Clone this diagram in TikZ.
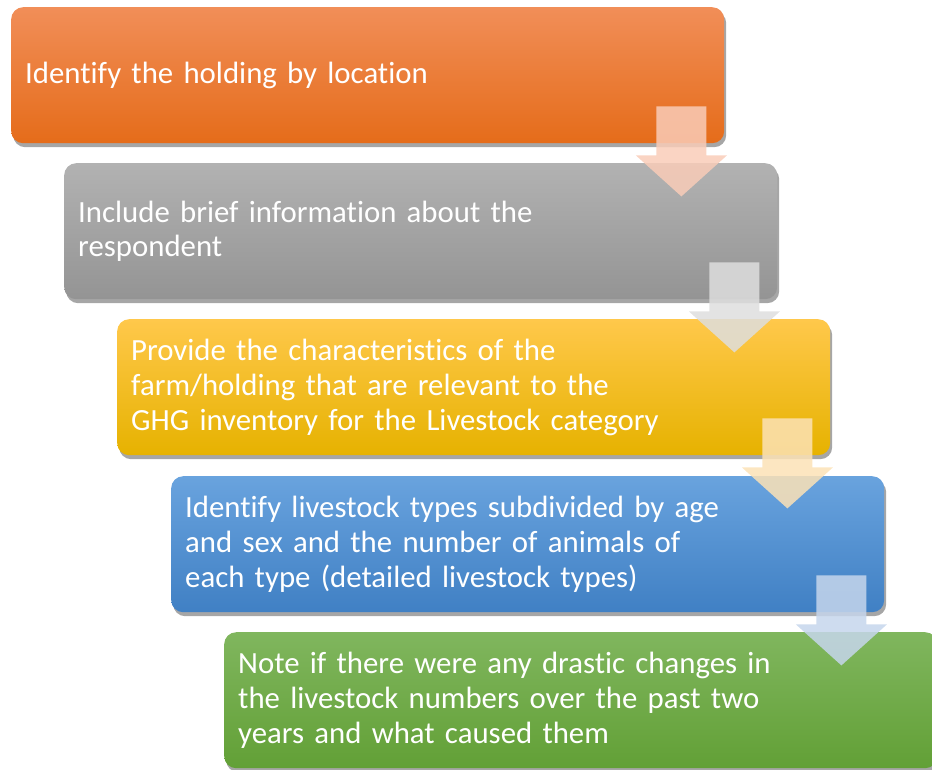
\documentclass[tikz,border=0pt]{standalone}
\usepackage{fontspec}
\setmainfont[Ligatures={NoCommon,NoRequired}]{Carlito}
\usetikzlibrary{shadows,calc}
\definecolor{oT}{RGB}{241,142,88}
\definecolor{oM}{RGB}{238,124,48}
\definecolor{oB}{RGB}{229,108,26}
\definecolor{gT}{RGB}{178,178,178}
\definecolor{gM}{RGB}{165,165,165}
\definecolor{gB}{RGB}{148,148,148}
\definecolor{yT}{RGB}{255,200,75}
\definecolor{yM}{RGB}{255,192,0}
\definecolor{yB}{RGB}{230,178,0}
\definecolor{bT}{RGB}{105,163,222}
\definecolor{bM}{RGB}{88,150,212}
\definecolor{bB}{RGB}{64,128,196}
\definecolor{nT}{RGB}{128,182,94}
\definecolor{nM}{RGB}{112,172,70}
\definecolor{nB}{RGB}{98,160,54}
\definecolor{a1}{RGB}{249,204,184}
\definecolor{a2}{RGB}{222,222,222}
\definecolor{a3}{RGB}{252,226,182}
\definecolor{a4}{RGB}{198,214,236}
\tikzset{
  stepbox/.style={rectangle, rounded corners=12pt, anchor=north west,
    minimum width=713pt, minimum height=136pt, inner xsep=14pt, inner ysep=0pt,
    text=white, align=left, text width=685pt,
    font=\fontsize{30.8}{34.8}\selectfont,
    drop shadow={shadow xshift=2pt, shadow yshift=-4pt, opacity=0.35, fill=black}},
  arrowfill/.style={fill=#1, fill opacity=0.85, draw=none}
}
\newcommand\stepdown[2]{%
  \fill[arrowfill=#2] ($#1+(-25,0)$) -- ($#1+(25,0)$) -- ($#1+(25,49)$) -- ($#1+(45.5,49)$)
    -- ($#1+(0,90)$) -- ($#1+(-45.5,49)$) -- ($#1+(-25,49)$) -- cycle;}
\begin{document}
\begin{tikzpicture}[x=1pt,y=-1pt]
\useasboundingbox (0,0) rectangle (932,769);
\node[stepbox, top color=oT, middle color=oM, bottom color=oB] (b1) at (11,7)
  {Identify the holding by location};
\node[stepbox, top color=gT, middle color=gM, bottom color=gB] (b2) at (64,163)
  {Include brief information about the\\respondent};
\node[stepbox, top color=yT, middle color=yM, bottom color=yB] (b3) at (117,319)
  {Provide the characteristics of the\\farm/holding that are relevant to the\\GHG inventory for the Livestock category};
\node[stepbox, top color=bT, middle color=bM, bottom color=bB] (b4) at (171,476)
  {Identify livestock types subdivided by age\\and sex and the number of animals of\\each type (detailed livestock types)};
\node[stepbox, top color=nT, middle color=nM, bottom color=nB, minimum width=707pt] (b5) at (224,632)
  {Note if there were any drastic changes in\\the livestock numbers over the past two\\years and what caused them};
\coordinate (p1) at ($(b1.south east)+(-43,-37)$);
\coordinate (p2) at ($(b2.south east)+(-43,-37)$);
\coordinate (p3) at ($(b3.south east)+(-43,-37)$);
\coordinate (p4) at ($(b4.south east)+(-43,-37)$);
\stepdown{(p1)}{a1}
\stepdown{(p2)}{a2}
\stepdown{(p3)}{a3}
\stepdown{(p4)}{a4}
\end{tikzpicture}
\end{document}
